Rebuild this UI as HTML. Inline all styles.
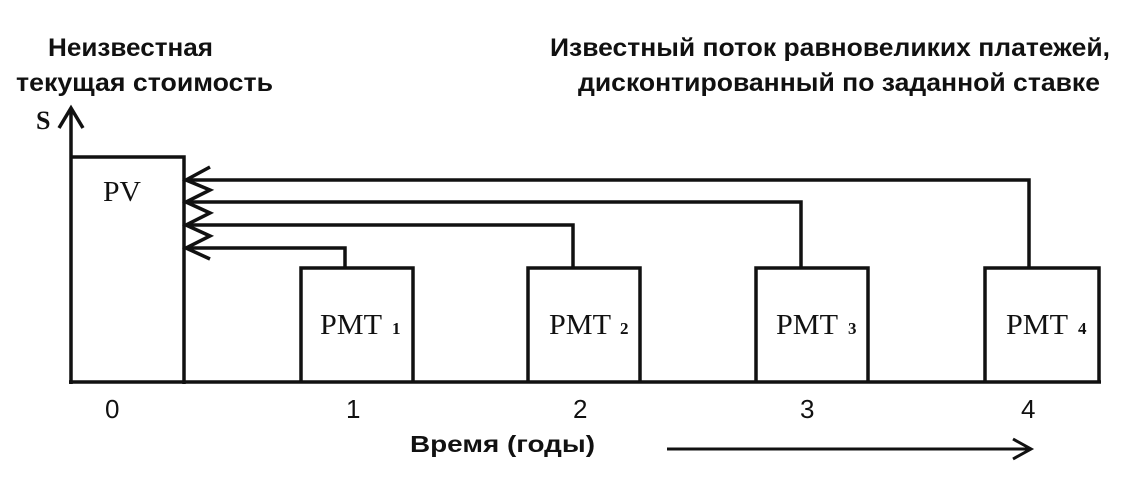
<!DOCTYPE html>
<html><head><meta charset="utf-8"><style>html,body{margin:0;padding:0;background:#fff}</style></head>
<body>
<svg width="1125" height="484" viewBox="0 0 1125 484" xmlns="http://www.w3.org/2000/svg">
<g font-family="Liberation Sans, sans-serif" font-weight="bold" font-size="25" fill="#111">
<text x="48" y="56" textLength="165" lengthAdjust="spacingAndGlyphs">Неизвестная</text>
<text x="16" y="91" textLength="257" lengthAdjust="spacingAndGlyphs">текущая стоимость</text>
<text x="550" y="56" textLength="560" lengthAdjust="spacingAndGlyphs">Известный поток равновеликих платежей,</text>
<text x="578" y="91" textLength="522" lengthAdjust="spacingAndGlyphs">дисконтированный по заданной ставке</text>
<text x="36" y="129" font-family="Liberation Serif, serif" font-size="26">S</text>
</g>
<g stroke="#111" stroke-width="3.5" fill="none">
<path d="M71 384 V108 M59 128 L71 108 L83 128"/>
<path d="M71 157 H184 V384"/>
<path d="M69 382 H1101"/>
<path d="M301 382 V268 H413 V382 M528 382 V268 H640 V382 M756 382 V268 H868 V382 M985 382 V268 H1099 V382"/>
<path d="M345 268 V248 H186 M573 268 V225 H186 M801 268 V202 H186 M1029 268 V180 H186"/>
<path d="M210 167 L186 180 L210 190 L186 202 L210 213 L186 225 L210 236 L186 248 L210 259"/>
<path d="M667 449 H1030 M1013 439 L1031 449 L1013 459" stroke-width="3"/>
</g>
<g font-family="Liberation Serif, serif" font-size="28" fill="#111">
<text x="103" y="201" textLength="38" lengthAdjust="spacingAndGlyphs">PV</text>
<text x="320" y="334" textLength="62" lengthAdjust="spacingAndGlyphs">PMT</text><text x="392" y="334" font-size="17" font-weight="bold">1</text>
<text x="549" y="334" textLength="62" lengthAdjust="spacingAndGlyphs">PMT</text><text x="620" y="334" font-size="17" font-weight="bold">2</text>
<text x="776" y="334" textLength="62" lengthAdjust="spacingAndGlyphs">PMT</text><text x="848" y="334" font-size="17" font-weight="bold">3</text>
<text x="1006" y="334" textLength="62" lengthAdjust="spacingAndGlyphs">PMT</text><text x="1078" y="334" font-size="17" font-weight="bold">4</text>
<g font-family="Liberation Sans, sans-serif" font-size="26">
<text x="105" y="418">0</text>
<text x="346" y="418">1</text>
<text x="573" y="418">2</text>
<text x="800" y="418">3</text>
<text x="1021" y="418">4</text>
</g>
<text x="410" y="452" font-family="Liberation Sans, sans-serif" font-weight="bold" font-size="23" textLength="185" lengthAdjust="spacingAndGlyphs">Время (годы)</text>
</g>
</svg>
</body></html>
